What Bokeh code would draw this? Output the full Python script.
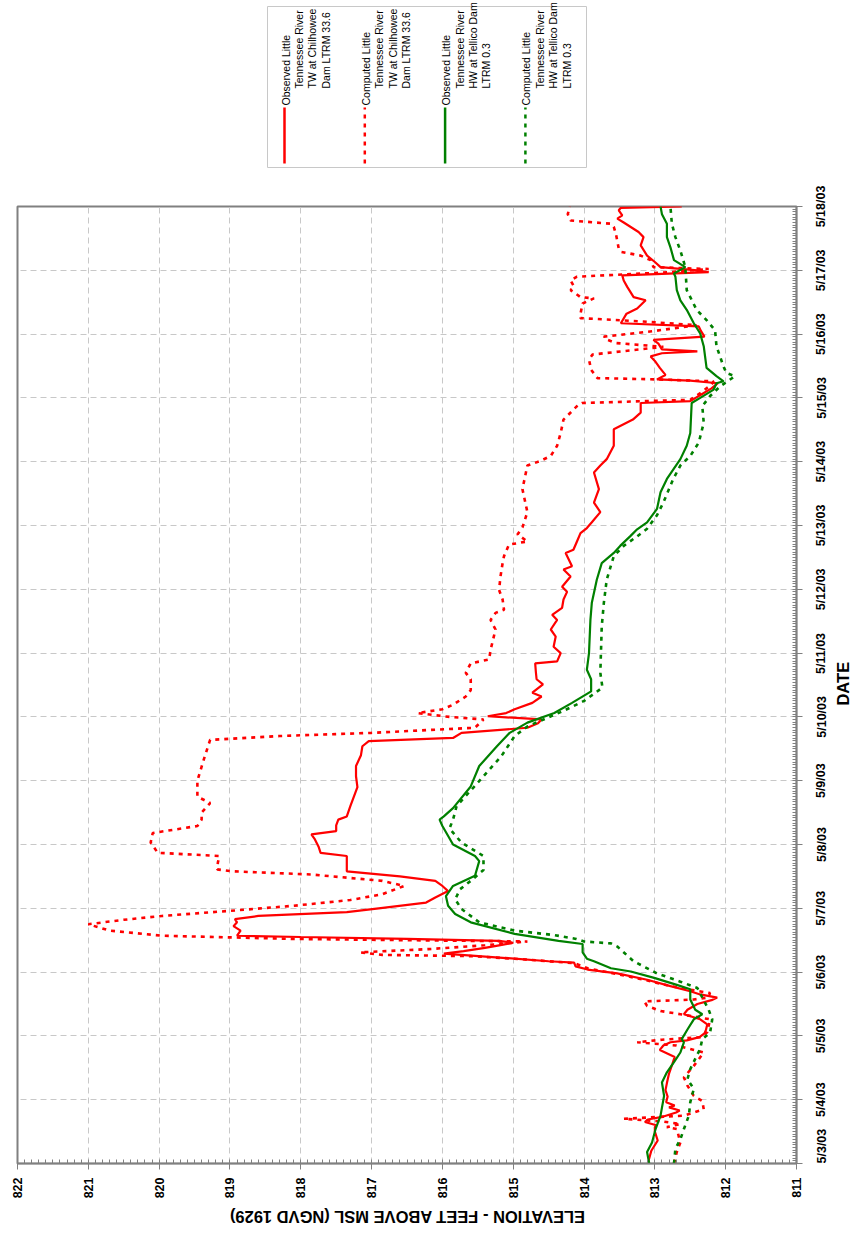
import math
from bokeh.plotting import figure
from bokeh.models import Range1d, FixedTicker, LinearAxis
from bokeh.layouts import column
from bokeh.embed import file_html
from bokeh.resources import INLINE
from bokeh.core.properties import value

# ---------------- data (time = days after 5/3/03 00:00, elevation in ft) ----------------
date_labels = ["5/3/03", "5/4/03", "5/5/03", "5/6/03", "5/7/03", "5/8/03", "5/9/03", "5/10/03",
               "5/11/03", "5/12/03", "5/13/03", "5/14/03", "5/15/03", "5/16/03", "5/17/03", "5/18/03"]
date_ticks = list(range(16))
elev_ticks = [811, 812, 813, 814, 815, 816, 817, 818, 819, 820, 821, 822]

obs_chil_t = [0.00, 0.20, 0.36, 0.50, 0.57, 0.60, 0.65, 0.69, 0.73, 0.80, 0.83, 0.88, 0.91, 0.96, 1.05,
              1.15, 1.26, 1.41, 1.57, 1.67, 1.78, 1.85, 1.90, 1.93, 1.98, 2.04, 2.09, 2.18, 2.26, 2.34,
              2.41, 2.50, 2.56, 2.60, 2.65, 2.70, 2.78, 2.88, 2.98, 3.04, 3.09, 3.15, 3.17, 3.22, 3.29,
              3.33, 3.38, 3.42, 3.46, 3.49, 3.52, 3.55, 3.57, 3.65, 3.72, 3.78, 3.83, 3.88, 3.94, 4.00,
              4.09, 4.17, 4.27, 4.35, 4.43, 4.50, 4.58, 4.70, 4.82, 4.87, 4.97, 5.08, 5.16, 5.21, 5.30,
              5.39, 5.44, 5.60, 5.75, 5.90, 6.07, 6.23, 6.40, 6.54, 6.62, 6.67, 6.75, 6.83, 6.90, 6.96,
              7.01, 7.06, 7.12, 7.22, 7.32, 7.38, 7.51, 7.59, 7.70, 7.84, 7.87, 8.00, 8.10, 8.26, 8.37,
              8.52, 8.60, 8.71, 8.84, 8.96, 9.04, 9.20, 9.31, 9.36, 9.57, 9.62, 9.75, 9.88, 9.96, 10.05,
              10.21, 10.36, 10.57, 10.83, 10.94, 11.04, 11.25, 11.51, 11.56, 11.66, 11.77, 11.92, 11.95,
              12.05, 12.15, 12.23, 12.27, 12.29, 12.36, 12.47, 12.58, 12.65, 12.70, 12.73, 12.76, 12.85,
              12.91, 12.96, 13.05, 13.12, 13.17, 13.32, 13.40, 13.53, 13.58, 13.74, 13.84, 13.92, 13.97,
              14.00, 14.05, 14.13, 14.23, 14.39, 14.52, 14.60, 14.75, 14.81, 14.86, 14.94, 14.98, 15.00]
obs_chil_e = [813.10, 813.05, 812.96, 813.00, 813.00, 812.98, 813.14, 813.10, 812.90, 812.70, 812.65,
              812.80, 812.72, 812.84, 812.82, 812.85, 812.83, 812.80, 812.75, 812.72, 812.93, 812.88,
              812.78, 812.55, 812.37, 812.30, 812.28, 812.26, 812.36, 812.59, 812.54, 812.40, 812.20,
              812.12, 812.36, 812.50, 812.78, 813.11, 813.53, 813.95, 814.12, 814.14, 814.50, 815.10,
              815.98, 815.70, 815.40, 815.20, 815.00, 815.20, 816.50, 818.00, 818.90, 818.85, 818.95,
              818.90, 818.93, 818.60, 817.35, 816.90, 816.23, 816.10, 815.92, 816.00, 816.10, 816.60,
              817.35, 817.35, 817.35, 817.72, 817.75, 817.80, 817.85, 817.50, 817.50, 817.47, 817.35,
              817.30, 817.25, 817.20, 817.22, 817.22, 817.15, 817.13, 817.04, 815.85, 815.73, 814.80,
              814.65, 814.60, 815.36, 815.10, 814.98, 814.73, 814.60, 814.73, 814.58, 814.67, 814.68,
              814.69, 814.38, 814.33, 814.43, 814.40, 814.47, 814.38, 814.45, 814.31, 814.29, 814.24,
              814.31, 814.19, 814.29, 814.17, 814.26, 814.15, 814.10, 814.05, 813.96, 813.89, 813.77,
              813.86, 813.79, 813.86, 813.77, 813.68, 813.58, 813.58, 813.49, 813.31, 813.20, 813.20,
              812.50, 812.35, 812.20, 812.11, 812.50, 812.97, 812.85, 812.93, 813.00, 813.06, 812.90,
              812.40, 812.90, 812.95, 813.02, 812.30, 812.35, 812.38, 813.48, 813.40, 813.25, 813.13,
              813.30, 813.39, 813.44, 813.46, 812.24, 812.40, 812.92, 813.00, 813.11, 813.20, 813.16,
              813.23, 813.44, 813.53, 813.46, 813.51, 813.48, 812.62]

comp_chil_t = [0.00, 0.18, 0.33, 0.54, 0.57, 0.62, 0.66, 0.70, 0.73, 0.75, 0.85, 0.98, 1.06, 1.22, 1.35,
               1.53, 1.74, 1.85, 1.90, 1.94, 1.98, 2.06, 2.26, 2.34, 2.39, 2.47, 2.54, 2.57, 2.60, 2.67,
               2.78, 2.88, 2.98, 3.06, 3.14, 3.21, 3.25, 3.27, 3.31, 3.36, 3.42, 3.48, 3.50, 3.52, 3.57,
               3.65, 3.75, 3.82, 3.88, 3.96, 4.04, 4.13, 4.22, 4.35, 4.43, 4.53, 4.58, 4.61, 4.72, 4.82,
               4.87, 5.03, 5.18, 5.29, 5.39, 5.50, 5.65, 5.75, 5.90, 6.00, 6.33, 6.64, 6.70, 6.75, 6.83,
               6.96, 7.00, 7.06, 7.12, 7.19, 7.32, 7.42, 7.59, 7.69, 7.84, 7.90, 8.05, 8.37, 8.52, 8.63,
               8.68, 8.84, 8.99, 9.20, 9.41, 9.52, 9.70, 9.75, 9.86, 9.97, 10.21, 10.57, 10.94, 11.01,
               11.09, 11.25, 11.45, 11.66, 11.87, 11.92, 11.97, 12.08, 12.21, 12.26, 12.29, 12.31, 12.44,
               12.60, 12.68, 12.75, 12.80, 12.86, 12.91, 12.96, 13.05, 13.14, 13.20, 13.25, 13.32, 13.48,
               13.56, 13.58, 13.69, 13.74, 13.84, 13.90, 13.97, 14.02, 14.05, 14.16, 14.23, 14.29, 14.34,
               14.57, 14.68, 14.73, 14.78, 14.88, 15.00]
comp_chil_e = [812.73, 812.69, 812.64, 812.69, 812.83, 812.64, 812.90, 813.44, 812.95, 812.59, 812.31,
               812.33, 812.45, 812.54, 812.59, 812.45, 812.31, 812.70, 813.25, 812.90, 812.36, 812.26,
               812.22, 812.64, 812.92, 813.11, 813.15, 812.45, 812.26, 812.22, 812.78, 813.15, 813.58,
               813.95, 814.14, 814.98, 815.60, 816.85, 817.16, 816.20, 815.40, 814.80, 816.50, 818.10,
               819.96, 820.70, 821.00, 820.50, 819.96, 819.00, 818.10, 817.30, 816.85, 816.54, 816.85,
               817.85, 818.97, 819.18, 819.17, 819.15, 820.02, 820.12, 820.09, 819.46, 819.40, 819.40,
               819.28, 819.46, 819.46, 819.46, 819.37, 819.28, 818.30, 817.00, 815.54, 815.42, 815.90,
               816.35, 816.00, 815.85, 815.67, 815.60, 815.60, 815.67, 815.60, 815.34, 815.32, 815.25,
               815.32, 815.25, 815.13, 815.15, 815.20, 815.18, 815.15, 815.13, 815.06, 814.80, 814.94,
               814.87, 814.80, 814.87, 814.80, 814.62, 814.47, 814.38, 814.33, 814.29, 814.10, 814.03,
               812.50, 812.35, 812.20, 812.17, 812.97, 813.81, 813.90, 813.93, 813.88, 813.30, 812.88,
               813.55, 813.67, 813.72, 813.00, 812.41, 813.20, 814.05, 814.05, 814.02, 813.86, 814.05,
               814.19, 814.14, 814.19, 814.10, 812.80, 812.24, 813.02, 813.06, 813.20, 813.48, 813.51,
               813.55, 813.58, 813.62, 814.19, 814.23, 814.20]

obs_tell_t = [0.00, 0.18, 0.33, 0.54, 0.75, 1.06, 1.27, 1.43, 1.59, 1.74, 1.90, 1.95, 2.10, 2.26, 2.34,
              2.41, 2.57, 2.73, 2.80, 2.91, 3.01, 3.06, 3.17, 3.21, 3.31, 3.44, 3.49, 3.60, 3.78, 3.91,
              4.04, 4.19, 4.35, 4.51, 4.74, 4.82, 5.00, 5.29, 5.39, 5.44, 5.57, 5.91, 6.23, 6.54, 6.75,
              6.91, 7.06, 7.22, 7.40, 7.59, 7.74, 8.00, 8.52, 8.79, 9.15, 9.41, 9.57, 9.68, 9.83, 9.94,
              10.05, 10.26, 10.52, 10.73, 11.04, 11.25, 11.45, 11.92, 12.00, 12.13, 12.23, 12.26, 12.34,
              12.47, 12.81, 13.01, 13.17, 13.38, 13.53, 13.69, 13.90, 13.95, 14.05, 14.16, 14.36, 14.52,
              14.73, 14.88, 15.00]
obs_tell_e = [813.08, 813.11, 813.04, 812.99, 812.92, 812.87, 812.90, 812.83, 812.73, 812.64, 812.59,
              812.62, 812.54, 812.45, 812.33, 812.43, 812.50, 812.50, 812.69, 813.01, 813.34, 813.62,
              813.86, 813.96, 814.02, 814.02, 814.36, 814.98, 815.60, 815.82, 815.92, 815.95, 815.85,
              815.54, 815.48, 815.54, 815.85, 816.00, 816.04, 815.98, 815.85, 815.60, 815.48, 815.23,
              815.05, 814.80, 814.42, 814.17, 813.90, 813.90, 813.96, 813.93, 813.91, 813.89, 813.82,
              813.75, 813.58, 813.49, 813.35, 813.25, 813.11, 812.97, 812.92, 812.83, 812.64, 812.55,
              812.50, 812.48, 812.36, 812.17, 812.13, 812.03, 812.13, 812.27, 812.31, 812.36, 812.45,
              812.55, 812.64, 812.69, 812.71, 812.73, 812.57, 812.73, 812.78, 812.83, 812.83, 812.90,
              812.92]

comp_tell_t = [0.00, 0.23, 0.38, 0.54, 0.75, 0.96, 1.17, 1.32, 1.48, 1.64, 1.80, 1.95, 2.05, 2.26, 2.41,
               2.75, 2.85, 2.98, 3.17, 3.40, 3.45, 3.48, 3.52, 3.58, 3.65, 3.78, 3.99, 4.14, 4.30, 4.43,
               4.60, 4.82, 5.03, 5.25, 5.39, 5.60, 6.07, 6.38, 6.70, 6.85, 7.09, 7.25, 7.46, 7.69, 8.42,
               8.79, 9.15, 9.52, 9.68, 9.83, 9.95, 10.16, 10.36, 10.73, 10.94, 11.09, 11.30, 11.61, 11.87,
               12.03, 12.18, 12.34, 12.39, 12.49, 12.81, 13.06, 13.22, 13.38, 13.69, 14.05, 14.31, 14.52,
               14.73, 15.00]
comp_tell_e = [812.73, 812.71, 812.64, 812.59, 812.52, 812.50, 812.45, 812.54, 812.50, 812.43, 812.36,
               812.33, 812.22, 812.19, 812.24, 812.40, 812.64, 812.97, 813.30, 813.53, 813.62, 814.00,
               814.11, 814.42, 814.98, 815.48, 815.73, 815.82, 815.75, 815.60, 815.42, 815.42, 815.73,
               815.90, 815.85, 815.80, 815.42, 815.17, 814.98, 814.80, 814.30, 814.00, 813.74, 813.77,
               813.75, 813.72, 813.68, 813.58, 813.44, 813.25, 813.11, 812.97, 812.88, 812.74, 812.64,
               812.50, 812.38, 812.31, 812.33, 812.22, 812.08, 811.87, 811.99, 812.03, 812.13, 812.15,
               812.27, 812.41, 812.55, 812.57, 812.64, 812.71, 812.76, 812.78]

series_names = [
    ["Observed Little", "Tennessee River", "TW at Chilhowee", "Dam LTRM 33.6"],
    ["Computed Little", "Tennessee River", "TW at Chilhowee", "Dam LTRM 33.6"],
    ["Observed Little", "Tennessee River", "HW at Tellico Dam", "LTRM 0.3"],
    ["Computed Little", "Tennessee River", "HW at Tellico Dam", "LTRM 0.3"],
]
series_colors = ["#ff0000", "#ff0000", "#008000", "#008000"]
series_dash = ["solid", "4 5", "solid", "4 5"]
x_title = "ELEVATION - FEET ABOVE MSL (NGVD 1929)"
y_title = "DATE"
y_title_pos = 7.53

FONT = value("Liberation Sans")
FRAME_L, FRAME_R = 17, 796          # page x of the plot frame (frames are aligned in the column)
FRAME_H = 957
BORDER_R = 858 - FRAME_R
FW = FRAME_R - FRAME_L
PX_PER_DAY = FRAME_H / 15.0
GRAY = "#808080"


def bold_width(txt, size):
    """Approximate rendered width of a bold Liberation Sans string (digits/slashes/caps)."""
    em = {"/": 0.278, "D": 0.722, "A": 0.722, "T": 0.611, "E": 0.667}
    return sum(em.get(c, 0.556) for c in txt) * size


# rotated right-axis labels are drawn starting at their anchor; shift anchors so labels are centred
# (an anchor cannot lie below the frame, so the first label starts at its tick)
DATE_FS = 12.5
TITLE_FS = 16.5
label_pos = [max(0.0, t - bold_width(s, DATE_FS) / 2 / PX_PER_DAY) for t, s in zip(date_ticks, date_labels)]
title_pos = y_title_pos - bold_width(y_title, TITLE_FS) / 2 / PX_PER_DAY

# ---------------- legend strip (its coordinates equal page pixels) ----------------
LEG_H = 183
leg = figure(frame_width=FW, frame_height=LEG_H, x_range=Range1d(FRAME_L, FRAME_R),
             y_range=Range1d(LEG_H, 0), x_axis_location=None, y_axis_location=None,
             toolbar_location=None, output_backend="svg",
             min_border_left=FRAME_L, min_border_right=BORDER_R, min_border_top=0, min_border_bottom=0)
leg.grid.visible = False
leg.outline_line_color = None
leg.quad(left=[267], right=[586], top=[6], bottom=[167], fill_color="white",
         line_color="#c8c8c8", line_width=1)
for i, (names, col, dash) in enumerate(zip(series_names, series_colors, series_dash)):
    x0 = 284 + 80.3 * i
    leg.line(x=[x0, x0], y=[163, 107], line_color=col, line_width=2.5, line_dash=dash)
    xs = [x0 + 1 + 13.4 * k for k in range(4)]
    ys = [105, 88, 88, 88]
    leg.text(x=xs, y=ys, text=names, angle=math.pi / 2, text_align="left",
             text_baseline="middle", text_font=FONT, text_font_size="10.5px", text_color="#000000")

# ---------------- main chart ----------------
p = figure(frame_width=FW, frame_height=FRAME_H, x_range=Range1d(822, 811), y_range=Range1d(0, 15),
           y_axis_location="right", toolbar_location=None, output_backend="svg",
           min_border_left=FRAME_L, min_border_top=206 - LEG_H, min_border_right=BORDER_R,
           min_border_bottom=36)
p.outline_line_color = GRAY
p.outline_line_width = 2
p.background_fill_color = "white"

xt = FixedTicker(ticks=elev_ticks, minor_ticks=[811 + 0.1 * k for k in range(111)])
yt = FixedTicker(ticks=date_ticks, minor_ticks=[k / 24 for k in range(361)])
p.xaxis.ticker = xt
p.xgrid.ticker = xt
p.ygrid.ticker = yt
for g in (p.xgrid, p.ygrid):
    g.grid_line_color = "#c8c8c8"
    g.grid_line_dash = "6 4"
    g.grid_line_width = 1

# bottom (elevation) axis
xa = p.xaxis[0]
xa.major_label_orientation = math.pi / 2
xa.major_label_text_font = "Liberation Sans"
xa.major_label_text_font_style = "bold"
xa.major_label_text_font_size = f"{DATE_FS}px"
xa.major_label_text_color = "#000000"
xa.major_label_standoff = 8
xa.axis_line_color = GRAY
xa.axis_line_width = 1.5
xa.major_tick_line_color = GRAY
xa.minor_tick_line_color = GRAY
xa.major_tick_out = 6
xa.major_tick_in = 0
xa.minor_tick_in = 4
xa.minor_tick_out = 0

# right axis 1: only the hourly inward ticks
ya = p.yaxis[0]
ya.ticker = FixedTicker(ticks=[], minor_ticks=[k / 24 for k in range(361)])
ya.axis_line_color = GRAY
ya.axis_line_width = 1.5
ya.minor_tick_line_color = GRAY
ya.minor_tick_in = 4
ya.minor_tick_out = 0
ya.major_tick_out = 0
ya.major_tick_in = 0
ya.major_label_standoff = 0

# right axis 2: daily outward ticks + centred date labels
date_axis = LinearAxis(ticker=FixedTicker(ticks=label_pos, minor_ticks=date_ticks),
                       major_label_overrides={lp: s for lp, s in zip(label_pos, date_labels)},
                       major_label_orientation=math.pi / 2,
                       major_label_text_font="Liberation Sans", major_label_text_font_style="bold",
                       major_label_text_font_size=f"{DATE_FS}px", major_label_text_color="#000000",
                       major_label_standoff=19, axis_line_color=None, major_tick_line_color=None,
                       major_tick_out=0, major_tick_in=0,
                       minor_tick_line_color=GRAY, minor_tick_out=6, minor_tick_in=0)
p.add_layout(date_axis, "right")

# right axis 3: the "DATE" title
title_axis = LinearAxis(ticker=FixedTicker(ticks=[title_pos]),
                        major_label_overrides={title_pos: y_title},
                        major_label_orientation=math.pi / 2,
                        major_label_text_font="Liberation Sans", major_label_text_font_style="bold",
                        major_label_text_font_size=f"{TITLE_FS}px", major_label_text_color="#000000",
                        major_label_standoff=5, axis_line_color=None, major_tick_line_color=None,
                        minor_tick_line_color=None, major_tick_out=0, major_tick_in=0)
p.add_layout(title_axis, "right")

for (t, e), col, dash in zip([(obs_chil_t, obs_chil_e), (comp_chil_t, comp_chil_e),
                              (obs_tell_t, obs_tell_e), (comp_tell_t, comp_tell_e)],
                             series_colors, series_dash):
    p.line(x=e, y=t, line_color=col, line_width=2.2 if dash == "solid" else 2.6, line_dash=dash)

# ---------------- bottom strip with the (upside-down) elevation title ----------------
BS_H = 30
bs = figure(frame_width=FW, frame_height=BS_H, x_range=Range1d(FRAME_L, FRAME_R),
            y_range=Range1d(BS_H, 0), x_axis_location=None, y_axis_location=None,
            toolbar_location=None, output_backend="svg",
            min_border_left=FRAME_L, min_border_right=BORDER_R, min_border_top=0, min_border_bottom=0)
bs.grid.visible = False
bs.outline_line_color = None
bs.text(x=[(FRAME_L + FRAME_R) / 2], y=[15], text=[x_title], angle=math.pi, text_align="center",
        text_baseline="middle", text_font=FONT, text_font_size=f"{TITLE_FS}px", text_font_style="bold",
        text_color="#000000")

layout = column(leg, p, bs, spacing=0)
open("out.html", "w").write(file_html(layout, INLINE))
